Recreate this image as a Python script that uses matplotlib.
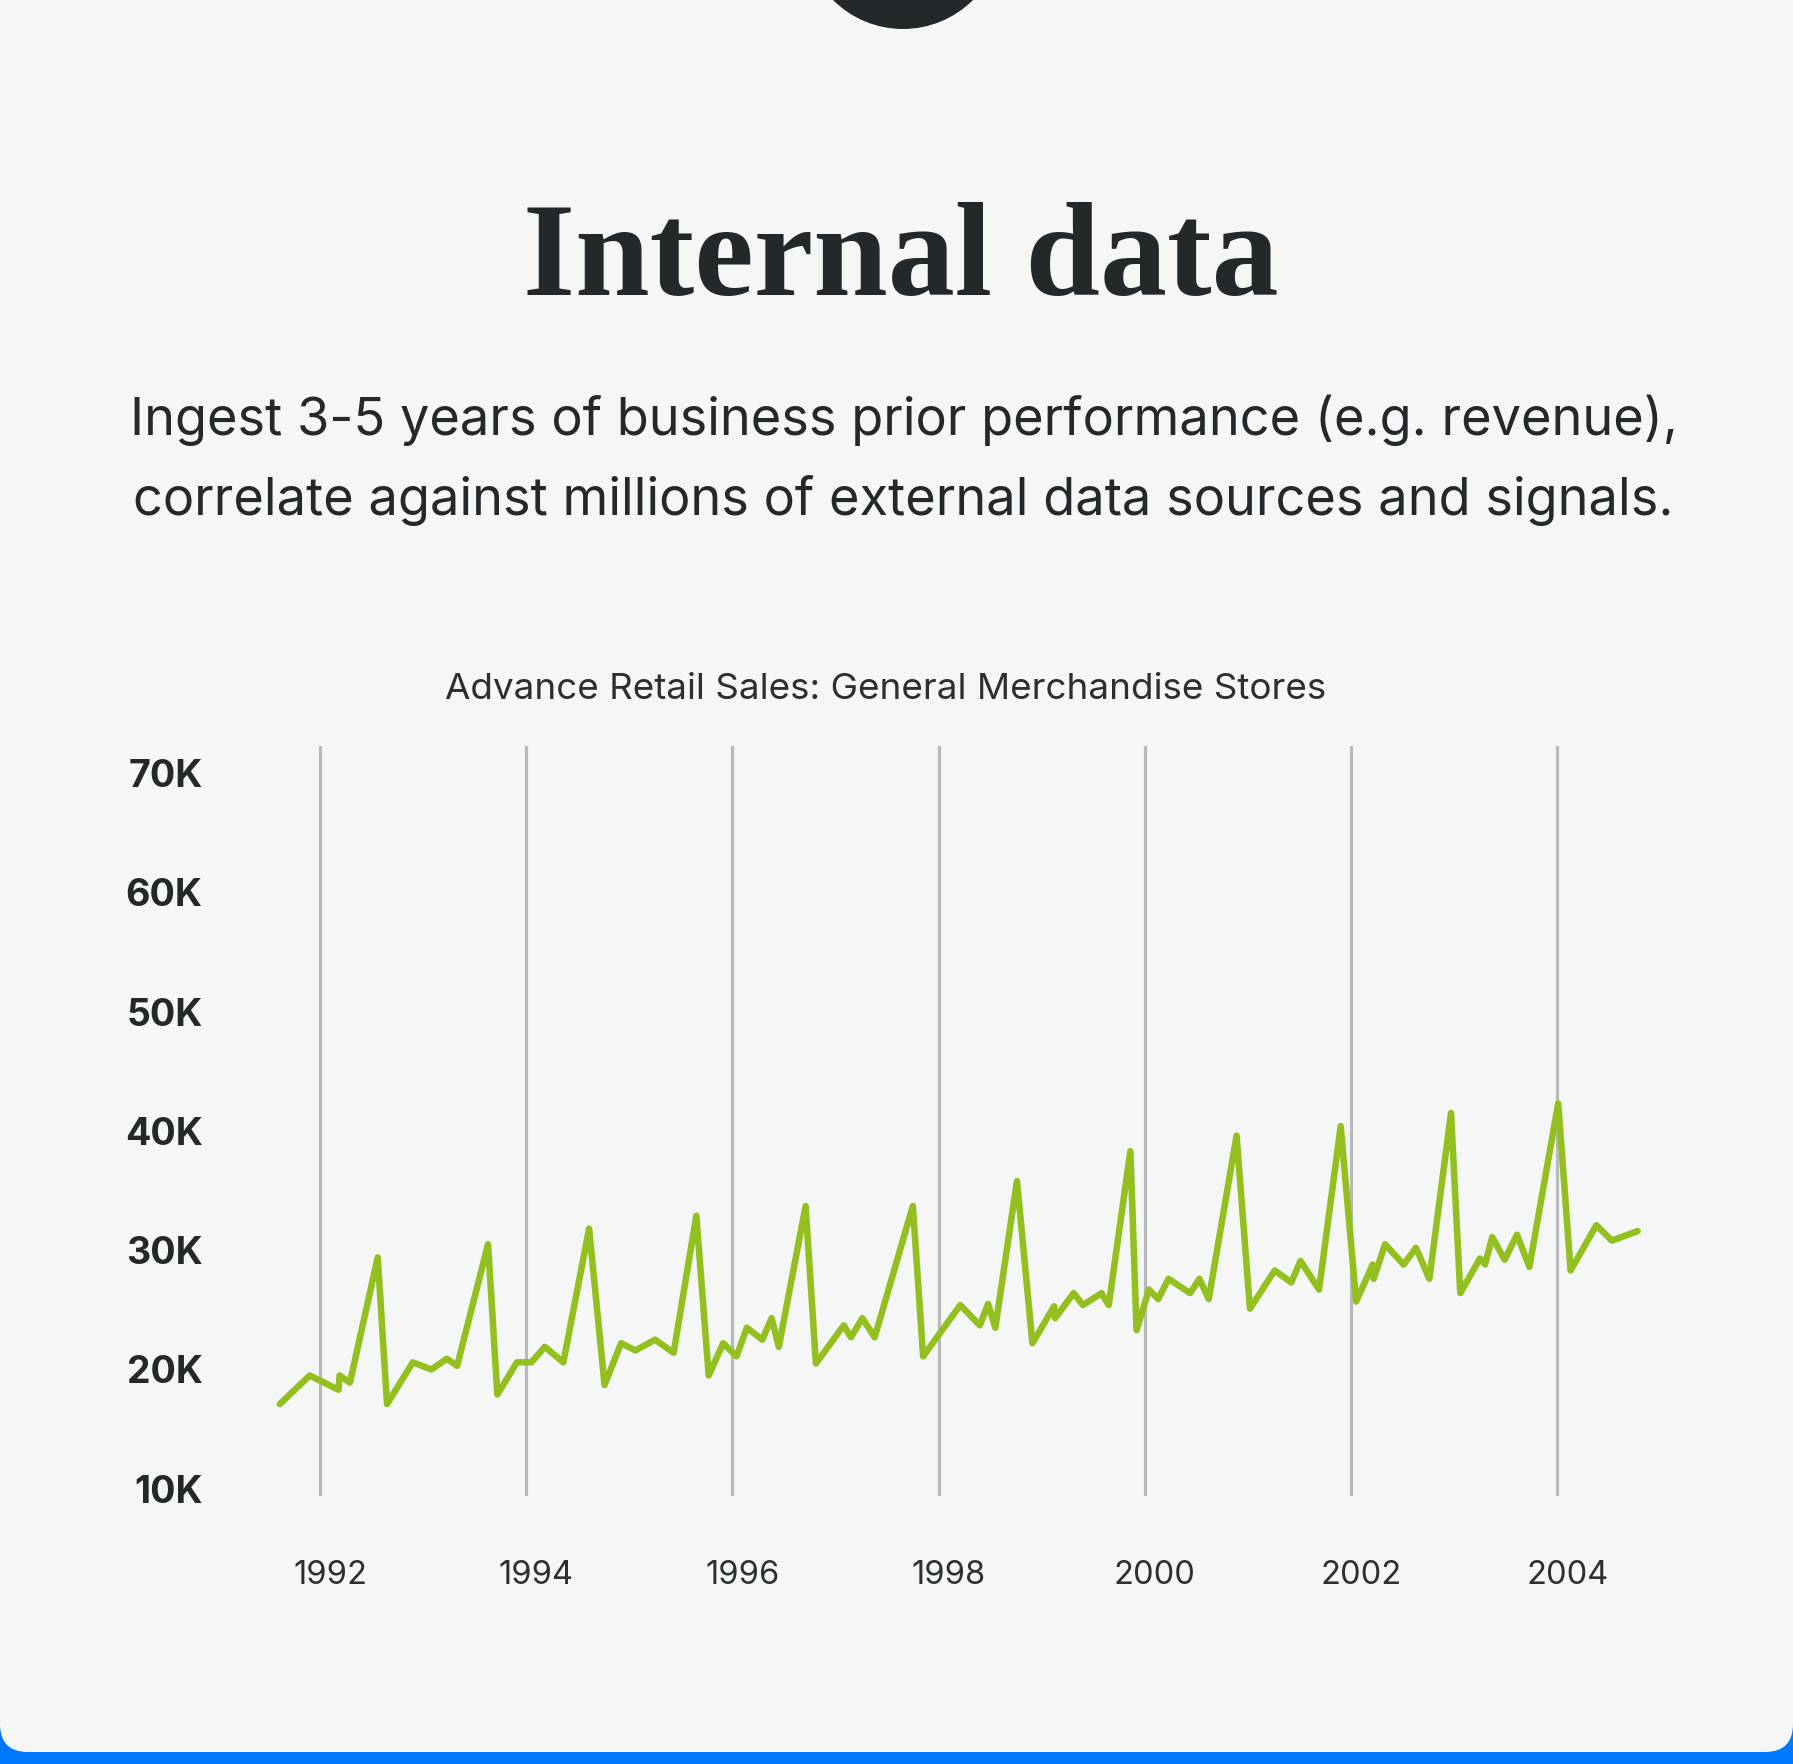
"""Internal data card: advance retail sales line chart."""

import matplotlib

matplotlib.use("Agg")
import matplotlib.pyplot as plt
from matplotlib.patches import Circle, FancyBboxPatch, Rectangle
from matplotlib.transforms import ScaledTranslation

# decimal year of each vertex, sales in thousands
years = [
    1991.61, 1991.90, 1992.18, 1992.19, 1992.29, 1992.56, 1992.65, 1992.90,
    1993.08, 1993.23, 1993.33, 1993.63, 1993.72, 1993.91, 1994.05, 1994.18,
    1994.36, 1994.61, 1994.76, 1994.92, 1995.06, 1995.25, 1995.43, 1995.65,
    1995.77, 1995.91, 1996.04, 1996.14, 1996.29, 1996.38, 1996.45, 1996.71,
    1996.81, 1997.08, 1997.15, 1997.26, 1997.38, 1997.75, 1997.85, 1998.21,
    1998.40, 1998.48, 1998.55, 1998.76, 1998.91, 1999.12, 1999.13, 1999.31,
    1999.40, 1999.58, 1999.65, 1999.86, 1999.92, 2000.04, 2000.13, 2000.23,
    2000.44, 2000.53, 2000.62, 2000.89, 2001.02, 2001.26, 2001.42, 2001.51,
    2001.69, 2001.90, 2002.05, 2002.21, 2002.22, 2002.33, 2002.51, 2002.63,
    2002.76, 2002.97, 2003.06, 2003.25, 2003.30, 2003.37, 2003.49, 2003.61,
    2003.73, 2004.01, 2004.13, 2004.38, 2004.53, 2004.78,
]
sales_k = [
    17.1, 19.5, 18.3, 19.5, 18.9, 29.4, 17.1, 20.6,
    20.0, 20.9, 20.3, 30.5, 17.9, 20.6, 20.6, 21.9,
    20.6, 31.8, 18.7, 22.2, 21.6, 22.5, 21.4, 32.9,
    19.5, 22.2, 21.1, 23.5, 22.5, 24.3, 21.9, 33.7,
    20.5, 23.7, 22.7, 24.3, 22.7, 33.7, 21.1, 25.4,
    23.7, 25.5, 23.5, 35.8, 22.2, 25.3, 24.3, 26.4,
    25.4, 26.4, 25.4, 38.3, 23.3, 26.7, 25.9, 27.6,
    26.4, 27.6, 25.9, 39.6, 25.1, 28.3, 27.3, 29.1,
    26.7, 40.4, 25.7, 28.8, 27.6, 30.5, 28.8, 30.2,
    27.6, 41.5, 26.4, 29.3, 28.8, 31.1, 29.2, 31.3,
    28.6, 42.3, 28.3, 32.1, 30.8, 31.6,
]
tick_years = [1992, 1994, 1996, 1998, 2000, 2002, 2004]
tick_values = [10, 20, 30, 40, 50, 60, 70]
tick_labels = ["10K", "20K", "30K", "40K", "50K", "60K", "70K"]

W, H = 1793, 1764
INK = "#23292b"
CARD = "#f5f7f6"
GREEN = "#93c01f"

fig = plt.figure(figsize=(W / 100, H / 100), dpi=100, facecolor="white")

# background layer in pixel coordinates
bg = fig.add_axes([0, 0, 1, 1], zorder=-1)
bg.set_xlim(0, W)
bg.set_ylim(H, 0)
bg.axis("off")
bg.add_patch(Rectangle((0, 1700), W, 64, color="#0077ff", lw=0))
bg.add_patch(FancyBboxPatch((0, -60), W, 1812, boxstyle="round,pad=0,rounding_size=28",
                            fc=CARD, ec="none"))
bg.add_patch(Circle((903, -70), 99, color=INK, lw=0))


def fy(px):
    return 1 - px / H


fig.text(0.5025, fy(295), "Internal data", ha="center", va="baseline",
         family="Liberation Serif", weight="bold", fontsize=96.5, color=INK)
fig.text(0.504, fy(434.5), "Ingest 3-5 years of business prior performance (e.g. revenue),",
         ha="center", va="baseline", family="Inter", fontsize=37.7, color=INK)
fig.text(0.504, fy(514.6), "correlate against millions of external data sources and signals.",
         ha="center", va="baseline", family="Inter", fontsize=37.7, color=INK)
fig.text(886 / W, fy(698.7), "Advance Retail Sales: General Merchandise Stores",
         ha="center", va="baseline", family="Inter", fontsize=26.5, color="#2a2f31")

ax = fig.add_axes([240 / W, 1 - 1495.7 / H, 1460 / W, 750.1 / H])
ax.set_facecolor("none")
ax.plot(years, sales_k, color=GREEN, lw=4.7, solid_joinstyle="round",
        solid_capstyle="round", zorder=3)
ax.set_xlim(1991.224, 2005.385)
ax.set_ylim(9.42, 72.3)
ax.set_xticks(tick_years)
ax.set_xticklabels([str(y) for y in tick_years], family="Inter", fontsize=23.5,
                   color="#2b3133")
ax.set_yticks(tick_values)
ax.set_yticklabels(tick_labels, family="Inter", weight="bold", fontsize=27, color=INK)
ax.tick_params(axis="both", length=0)
ax.tick_params(axis="y", pad=27)
ax.tick_params(axis="x", pad=46)
ax.grid(axis="x", color="#b8b9b9", lw=2.3)
ax.grid(axis="y", visible=False)
for spine in ax.spines.values():
    spine.set_visible(False)
shift = ScaledTranslation(0.1, 0, fig.dpi_scale_trans)
for label in ax.get_xticklabels():
    label.set_transform(label.get_transform() + shift)

fig.savefig("out.png", dpi=100, facecolor=fig.get_facecolor())
